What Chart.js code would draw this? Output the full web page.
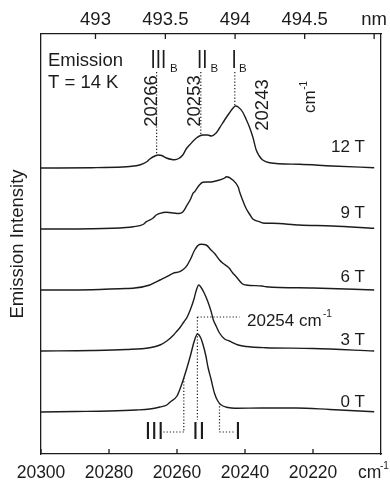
<!DOCTYPE html>
<html>
<head>
<meta charset="UTF-8">
<title>Emission spectra vs field</title>
<script src="https://cdn.jsdelivr.net/npm/chart.js@4.4.1/dist/chart.umd.min.js"></script>
<style>
    html, body { margin: 0; padding: 0; background: #fff; }
    #spec { display: block; }
</style>
</head>
<body>
<canvas id="spec" width="390" height="483"></canvas>
<script>
    // wavenumber (cm-1) / intensity above each trace's own baseline
    var wn0 = [20300, 20290, 20280, 20272, 20268, 20265, 20263, 20262, 20260, 20259, 20258, 20257, 20256, 20255, 20254, 20253, 20252.4, 20251.5, 20250.9, 20250, 20249, 20248, 20247, 20245, 20243, 20235, 20225, 20215, 20202];
    var int0 = [0, 0.5, 1, 2, 3, 5, 7, 10, 16, 24, 34, 45, 57, 70, 78, 74, 68, 56, 45, 33, 19, 11, 7, 4.5, 3.7, 4, 4, 2.5, 0.3];

    var wn3 = [20300, 20285, 20275, 20268, 20265, 20263, 20261, 20260, 20259, 20258, 20257, 20256, 20255, 20254.3, 20253.6, 20253, 20252, 20251, 20250, 20249.3, 20248.5, 20247.5, 20246, 20244.6, 20242, 20238, 20234, 20220, 20202];
    var int3 = [0, 0.5, 1.5, 3.3, 6, 10, 16, 20, 24, 29, 34, 42, 52, 61, 66, 64, 58, 50, 40, 31, 25, 18, 12, 10, 6, 4, 3.3, 2.5, 0];

    var wn6 = [20300, 20285, 20275, 20273, 20268, 20267, 20265, 20263, 20261.2, 20259.2, 20258, 20257.3, 20256, 20254.8, 20253.4, 20252.9, 20251.4, 20250, 20249, 20247.5, 20246.5, 20245, 20244.6, 20243.6, 20242.6, 20240.7, 20239.7, 20235, 20233.8, 20220, 20202];
    var int6 = [0, 0.3, 1.5, 1.7, 5, 6.7, 10, 13.3, 16.7, 18.3, 21, 23.3, 31, 40, 45.5, 45.7, 45, 40, 36.7, 30, 26.7, 23, 21.7, 17, 13.3, 6, 5, 4, 3.3, 2, 0];

    var wn9 = [20300, 20285, 20275, 20272.9, 20270, 20269, 20267, 20266.1, 20265, 20263.1, 20261, 20259.5, 20258.3, 20257.3, 20256, 20255.3, 20254.8, 20253.4, 20252.4, 20251, 20249.5, 20247.5, 20246, 20245.5, 20243.6, 20242, 20241.6, 20240.7, 20239.7, 20238.5, 20237.7, 20235.8, 20234.8, 20231.9, 20224, 20214.4, 20202];
    var int9 = [0, 0.3, 1.5, 2.3, 4.5, 7.3, 11, 14, 15.7, 16.7, 16, 15.5, 17, 22.3, 30, 35.7, 37.3, 44, 46.7, 47, 47.3, 49, 51, 52.3, 49, 42, 37.3, 29, 20.7, 14, 10, 7.3, 6, 5.7, 4, 3, 0.7];

    var wn12 = [20300, 20285, 20276, 20273.9, 20271, 20269, 20268, 20266.5, 20265.5, 20264.5, 20263.1, 20261.5, 20260.7, 20259.5, 20258.3, 20257.3, 20256.3, 20254.3, 20252.4, 20251, 20249.9, 20248.5, 20247.5, 20246, 20244.6, 20243.5, 20242.8, 20242, 20240.7, 20239.7, 20238.7, 20237.7, 20236.7, 20235.8, 20234.8, 20232.8, 20224, 20214.4, 20202];
    var int12 = [0, 0.3, 1, 1.5, 3, 6, 9, 12, 13, 12.5, 10, 8.5, 8.3, 9.5, 13, 19, 23, 30, 33, 33, 32, 35, 40, 48, 55, 60, 62, 61, 56, 49, 41, 31, 18, 12, 8, 5.3, 3.7, 2, 0.3];

    var fields = ['0 T', '3 T', '6 T', '9 T', '12 T'];
    var offsets = [42, 103, 164, 225, 286];      // vertical stacking of the traces
    var xTicks = [20300, 20280, 20260, 20240, 20220];
    var nmTicks = [493, 493.5, 494, 494.5, 495];
    var peaksB = [20266, 20253, 20243];          // III_B, II_B, I_B at 12 T
    var zeroFieldLines = [20258, 20254, 20247.5]; // III, II, I at 0 T

    var FONT = '"Liberation Sans", Arial, sans-serif';
    var INK = '#1c1c1c';
    var frameBorder = { display: true, color: INK, width: 1.3 };

    var wns = [wn0, wn3, wn6, wn9, wn12];
    var ints = [int0, int3, int6, int9, int12];

    function shifted(k) {
        var pts = [];
        for (var i = 0; i < wns[k].length; i++) {
            pts.push({ x: wns[k][i], y: ints[k][i] + offsets[k] });
        }
        return pts;
    }

    // linear read-out of a trace at a given wavenumber (for the marker lines)
    function traceAt(k, v) {
        var w = wns[k], s = ints[k];
        for (var i = 0; i < w.length - 1; i++) {
            if ((w[i] - v) * (w[i + 1] - v) <= 0) {
                var t = (v - w[i]) / (w[i + 1] - w[i]);
                return s[i] + t * (s[i + 1] - s[i]) + offsets[k];
            }
        }
        return offsets[k];
    }

    var datasets = [];
    for (var k = 0; k < fields.length; k++) {
        datasets.push({
            label: fields[k],
            data: shifted(k),
            borderColor: INK,
            borderWidth: 1.4,
            pointRadius: 0,
            fill: false,
            cubicInterpolationMode: 'monotone'
        });
    }

    var notes = {
        id: 'notes',
        afterDatasetsDraw: function (chart) {
            var ctx = chart.ctx;
            var xs = chart.scales.x, ys = chart.scales.y;
            var px = function (v) { return xs.getPixelForValue(v); };
            var py = function (v) { return ys.getPixelForValue(v); };

            ctx.save();
            ctx.strokeStyle = INK;
            ctx.fillStyle = INK;

            // dotted marker lines
            ctx.lineWidth = 1.2;
            ctx.setLineDash([1.2, 2]);
            function dots(x1, y1, x2, y2) {
                ctx.beginPath();
                ctx.moveTo(px(x1), py(y1));
                ctx.lineTo(px(x2), py(y2));
                ctx.stroke();
            }
            peaksB.forEach(function (v) { dots(v, 382, v, traceAt(4, v)); });
            dots(zeroFieldLines[1], 137, zeroFieldLines[1], 34);
            dots(zeroFieldLines[1], 137, 20241.6, 137);
            dots(zeroFieldLines[0], traceAt(0, zeroFieldLines[0]), zeroFieldLines[0], 22);
            dots(zeroFieldLines[0], 22, 20264.5, 22);
            dots(zeroFieldLines[2], traceAt(0, zeroFieldLines[2]), zeroFieldLines[2], 22);
            dots(zeroFieldLines[2], 22, 20243, 22);
            ctx.setLineDash([]);

            ctx.textBaseline = 'alphabetic';
            function txt(s, x, y, size, align) {
                ctx.font = size + 'px ' + FONT;
                ctx.textAlign = align || 'left';
                ctx.fillText(s, x, y);
            }
            function roman(s, x, y, size, sx) {
                ctx.save();
                ctx.translate(x, y);
                ctx.scale(sx, 1);
                ctx.font = size + 'px ' + FONT;
                ctx.textAlign = 'left';
                ctx.fillText(s, 0, 0);
                ctx.restore();
            }
            function vtxt(s, x, y, size) {
                ctx.save();
                ctx.translate(x, y);
                ctx.rotate(-Math.PI / 2);
                ctx.font = size + 'px ' + FONT;
                ctx.textAlign = 'center';
                ctx.fillText(s, 0, 0);
                ctx.restore();
            }

            txt('Emission', 48, 66, 18.5);
            txt('T = 14 K', 48, 88, 18.5);

            // band labels at 12 T
            roman('III', 150.5, 68, 25, 0.75);
            txt('B', 170, 71.5, 11.5);
            roman('II', 197, 68, 25, 0.75);
            txt('B', 210.5, 71.5, 11.5);
            roman('I', 231.5, 68, 25, 0.75);
            txt('B', 239, 71.5, 11.5);

            vtxt(String(peaksB[0]), 156.5, 101, 18.5);
            vtxt(String(peaksB[1]), 200, 101, 18.5);
            vtxt(String(peaksB[2]), 268, 105, 18.5);

            // rotated unit
            ctx.save();
            ctx.translate(315, 113);
            ctx.rotate(-Math.PI / 2);
            ctx.font = '17px ' + FONT;
            ctx.textAlign = 'left';
            ctx.fillText('cm', 0, 0);
            var w = ctx.measureText('cm').width;
            ctx.font = '10px ' + FONT;
            ctx.fillText('-1', w + 0.5, -8);
            ctx.restore();

            // field labels
            var labelY = [407, 345, 282, 218, 152];
            for (var i = 0; i < fields.length; i++) {
                txt(fields[i], 365, labelY[i], 17, 'right');
            }

            txt('20254 cm', 247, 326, 17);
            txt('-1', 323, 317, 10);

            // zero-field labels
            roman('III', 144.7, 439, 23, 1);
            roman('II', 192.3, 439, 23, 1);
            roman('I', 234.7, 439, 23, 1);

            // bottom unit
            txt('cm', 358, 478, 17.5);
            txt('-1', 380, 469, 10);
            ctx.restore();
        },
        afterDraw: function (chart) {
            // inward ticks on the box, drawn last
            var ctx = chart.ctx;
            var xs = chart.scales.x, ys = chart.scales.y;
            var t = ys.top, b = ys.bottom;
            ctx.save();
            ctx.setLineDash([]);
            ctx.strokeStyle = INK;
            ctx.lineWidth = 1.3;
            ctx.beginPath();
            xTicks.forEach(function (v) {
                ctx.moveTo(xs.getPixelForValue(v), b);
                ctx.lineTo(xs.getPixelForValue(v), b - 5);
            });
            nmTicks.forEach(function (n) {
                ctx.moveTo(xs.getPixelForValue(1e7 / n), t);
                ctx.lineTo(xs.getPixelForValue(1e7 / n), t + 5);
            });
            ctx.stroke();
            ctx.restore();
        }
    };

    var ctx = document.getElementById('spec').getContext('2d');
    window.specChart = new Chart(ctx, {
        type: 'line',
        data: { datasets: datasets },
        options: {
            responsive: false,
            animation: false,
            devicePixelRatio: 1,
            plugins: { legend: { display: false }, tooltip: { enabled: false } },
            scales: {
                x: {
                    type: 'linear',
                    position: 'bottom',
                    min: 20200,
                    max: 20300,
                    reverse: true,
                    grid: { display: false, drawTicks: false },
                    border: frameBorder,
                    ticks: {
                        stepSize: 20,
                        padding: 9,
                        color: INK,
                        font: { family: FONT, size: 17.5 },
                        maxRotation: 0,
                        autoSkip: false,
                        callback: function (v) { return v === 20200 ? '' : String(v); }
                    },
                    afterFit: function (s) { s.height = 29; }
                },
                xnm: {
                    type: 'linear',
                    position: 'top',
                    min: 20200,
                    max: 20300,
                    reverse: true,
                    grid: { display: false, drawTicks: false },
                    border: frameBorder,
                    afterBuildTicks: function (s) {
                        s.ticks = nmTicks.map(function (l) { return { value: 1e7 / l }; });
                    },
                    ticks: {
                        padding: 2.5,
                        color: INK,
                        font: { family: FONT, size: 18.5 },
                        maxRotation: 0,
                        autoSkip: false,
                        callback: function (v) {
                            var l = Math.round(1e8 / v) / 10;
                            return l === 495 ? 'nm' : String(l);
                        }
                    },
                    afterFit: function (s) { s.height = 34; }
                },
                y: {
                    min: 0,
                    max: 420,
                    grid: { display: false, drawTicks: false },
                    border: frameBorder,
                    ticks: { display: false },
                    title: {
                        display: true,
                        text: 'Emission Intensity',
                        color: INK,
                        font: { family: FONT, size: 18.5 },
                        padding: { top: 7, bottom: 0 }
                    },
                    afterFit: function (s) { s.width = 41; }
                },
                yr: {
                    position: 'right',
                    min: 0,
                    max: 420,
                    grid: { display: false, drawTicks: false },
                    border: frameBorder,
                    ticks: { display: false },
                    afterFit: function (s) { s.width = 8; }
                }
            }
        },
        plugins: [notes]
    });
</script>
</body>
</html>
